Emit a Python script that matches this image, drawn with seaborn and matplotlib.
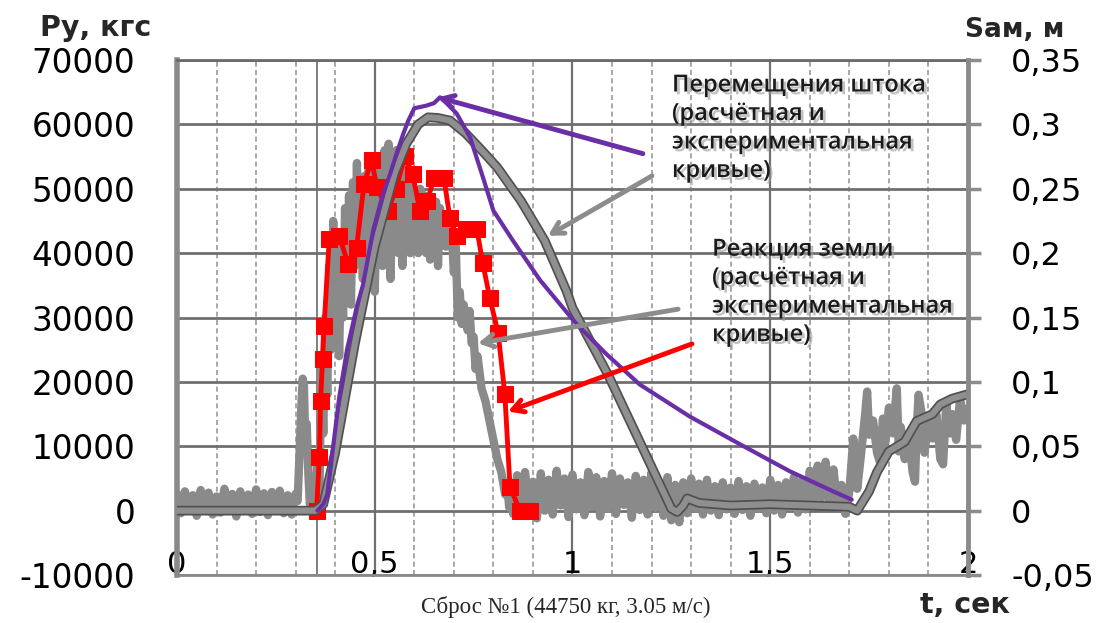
import numpy as np
import seaborn as sns
import matplotlib.pyplot as plt
import matplotlib.patheffects as pe

# experimental ground reaction (gray noisy curve), kgf
force_t = [
    0.00, 0.01, 0.02, 0.03, 0.04, 0.05, 0.06, 0.07, 0.08, 0.09, 0.10, 0.11, 0.12, 0.13, 0.14, 0.15,
    0.16, 0.17, 0.18, 0.19, 0.20, 0.21, 0.22, 0.23, 0.24, 0.25, 0.26, 0.27, 0.28, 0.29, 0.30,
    0.305, 0.31, 0.315, 0.318, 0.321, 0.324, 0.328, 0.332, 0.336, 0.34, 0.345, 0.35,
    0.355, 0.36, 0.365, 0.37, 0.375, 0.38, 0.385, 0.39, 0.395, 0.40, 0.405, 0.41, 0.415, 0.42,
    0.425, 0.43, 0.435, 0.44, 0.445, 0.45, 0.455, 0.46, 0.465, 0.47, 0.475, 0.48, 0.485, 0.49,
    0.495, 0.50, 0.505, 0.51, 0.515, 0.52, 0.525, 0.53, 0.535, 0.54, 0.545, 0.55, 0.555, 0.56,
    0.565, 0.57, 0.575, 0.58, 0.585, 0.59, 0.595, 0.60, 0.605, 0.61, 0.615, 0.62, 0.625, 0.63,
    0.635, 0.64, 0.645, 0.65, 0.655, 0.66, 0.665, 0.67, 0.675, 0.68, 0.685, 0.69, 0.695, 0.70,
    0.705, 0.71, 0.715, 0.72, 0.725, 0.73, 0.735, 0.74, 0.745, 0.75, 0.755, 0.76, 0.77, 0.78,
    0.79, 0.80, 0.81, 0.82, 0.83, 0.835, 0.84, 0.845, 0.85,
    0.86, 0.87, 0.88, 0.89, 0.90, 0.91, 0.92, 0.93, 0.94, 0.95, 0.96, 0.97, 0.98, 0.99, 1.00,
    1.01, 1.02, 1.03, 1.04, 1.05, 1.06, 1.07, 1.08, 1.09, 1.10, 1.11, 1.12, 1.13, 1.14, 1.15,
    1.16, 1.17, 1.18, 1.19, 1.20, 1.21, 1.22, 1.23, 1.24, 1.25, 1.26, 1.27, 1.28, 1.29, 1.30,
    1.31, 1.32, 1.33, 1.34, 1.35, 1.36, 1.37, 1.38, 1.39, 1.40, 1.41, 1.42, 1.43, 1.44, 1.45,
    1.46, 1.47, 1.48, 1.49, 1.50, 1.51, 1.52, 1.53, 1.54, 1.55, 1.56, 1.57, 1.58, 1.59, 1.60,
    1.61, 1.62, 1.63, 1.64, 1.65, 1.66, 1.67, 1.68, 1.69, 1.70,
    1.71, 1.72, 1.73, 1.74, 1.745, 1.75, 1.76, 1.77, 1.777, 1.785, 1.79, 1.80, 1.81, 1.82,
    1.825, 1.83, 1.84, 1.85, 1.86, 1.866, 1.87, 1.875, 1.885, 1.89, 1.90, 1.91, 1.92, 1.93,
    1.937, 1.945, 1.955, 1.96, 1.97, 1.98, 1.99, 2.00,
]
force_kgf = [
    2600, -400, 3000, 200, 2400, -800, 3200, 0, 2800, -600, 2200, -300, 3400, 400, 2600, -900,
    3000, 100, 2500, -500, 3300, -200, 2700, -700, 2900, 300, 3100, -400, 2400, -600, 2600,
    1500, 9000, 17000, 20500, 19500, 11500, 13500, 6000, 1000, 3000, -500, 1500,
    8000, 2000, 22000, 12000, 30000, 18000, 38000, 25000, 45000, 28000, 42000, 24000, 40000, 30000,
    47000, 33000, 49000, 32000, 51000, 38000, 54000, 40000, 50000, 36000, 52000, 40000, 55000, 35000,
    49000, 34000, 48000, 40000, 54000, 38000, 56000, 42000, 57000, 36000, 52000, 44000, 56000, 40000,
    53000, 38000, 54000, 45000, 52000, 40000, 50000, 43000, 49000, 40000, 50000, 44000, 49000, 40000,
    48000, 39000, 47000, 42000, 48000, 38000, 47000, 43000, 46000, 41000, 45000, 42000, 43000, 37000,
    41000, 30000, 34000, 29000, 32000, 30000, 28000, 31000, 26000, 27000, 22000, 24000, 19000, 17000,
    14000, 11000, 8000, 6000, 2500, 4000, 500, 3000, -500,
    5500, -800, 6000, 500, 4500, -1200, 5800, 0, 4800, -600, 6200, 800, 5000, -1000, 5600,
    200, 4400, -700, 6000, 600, 5200, -900, 4600, 300, 5800, -500, 5000, 900, 4400, -1100,
    5400, 100, 4800, -600, 6000, 400, 4200, -800, 5200, -1500, 4000, -1800, 4400, -400, 5000,
    300, 4200, -600, 4800, 0, 3800, -700, 4400, 200, 3600, -500, 4600, 100, 3800, -800,
    4200, 300, 3600, -400, 4800, 0, 4000, -600, 4400, 500, 5200, -300, 4600, 200, 6200,
    1000, 7000, 2000, 7600, 1200, 6400, 500, 4000, -500, 3000,
    11200, 3400, 9000, 15000, 18500, 11800, 14000, 9000, 7600, 14300, 10000, 16000, 12000, 19000,
    9200, 13000, 8000, 12000, 6000, 4500, 12000, 18000, 14300, 9000, 14000, 11200, 15000, 8000,
    7200, 16500, 12000, 15000, 11000, 17400, 14000, 15900,
]

# calculated ground reaction (red, square markers), kgf
calc_force_t = [0.353, 0.36, 0.363, 0.368, 0.372, 0.385, 0.41, 0.433, 0.454, 0.473, 0.492,
                0.506, 0.533, 0.554, 0.576, 0.596, 0.614, 0.633, 0.65, 0.675, 0.69, 0.707,
                0.732, 0.758, 0.773, 0.791, 0.812, 0.829, 0.842, 0.867, 0.893]
calc_force_kgf = [0, 8400, 17000, 23500, 28700, 42200, 42700, 38300, 40800, 50800, 54400,
                  50200, 46600, 50000, 55100, 52300, 46600, 48100, 51700, 51600, 45500, 42700,
                  43800, 43800, 38500, 33000, 27600, 18100, 3700, 0, 0]

# experimental rod displacement (gray outlined curve), m
exp_disp_t = [0, 0.35, 0.37, 0.40, 0.45, 0.50, 0.55, 0.58, 0.61, 0.635, 0.66, 0.69, 0.73,
              0.77, 0.81, 0.87, 0.93, 0.985, 1.0, 1.09, 1.17, 1.25, 1.265, 1.28, 1.29, 1.32,
              1.40, 1.50, 1.60, 1.70, 1.72, 1.75, 1.77, 1.80, 1.84, 1.87, 1.91, 1.93, 1.96, 2.0]
exp_disp_m = [0, 0, 0.005, 0.045, 0.13, 0.205, 0.262, 0.285, 0.3, 0.3055, 0.305, 0.303, 0.293,
              0.28, 0.2665, 0.2405, 0.2095, 0.1705, 0.1575, 0.1055, 0.0535, 0.0015, -0.001, 0.004,
              0.0095, 0.006, 0.004, 0.005, 0.004, 0.003, 0.0, 0.015, 0.03, 0.046, 0.0535, 0.0695,
              0.075, 0.0825, 0.087, 0.0905]

# calculated rod displacement (purple), m
calc_disp_t = [0.355, 0.37, 0.38, 0.39, 0.40, 0.41, 0.43, 0.454, 0.47, 0.496, 0.52, 0.539, 0.555,
               0.572, 0.585, 0.60, 0.63, 0.65, 0.665, 0.68, 0.707, 0.741, 0.774, 0.80, 0.85, 0.918,
               1.01, 1.086, 1.17, 1.297, 1.424, 1.55, 1.659, 1.706]
calc_disp_m = [0, 0.005, 0.0125, 0.0375, 0.0625, 0.0875, 0.125, 0.1575, 0.175, 0.2175, 0.245,
               0.2615, 0.277, 0.2925, 0.303, 0.3125, 0.3145, 0.3165, 0.321, 0.317, 0.3085, 0.29,
               0.2585, 0.233, 0.2095, 0.179, 0.145, 0.1215, 0.098, 0.073, 0.0515, 0.0305, 0.015,
               0.0085]

impact_t = 0.353

left_ticks = [-10000, 0, 10000, 20000, 30000, 40000, 50000, 60000, 70000]
left_labels = ["-10000", "0", "10000", "20000", "30000", "40000", "50000", "60000", "70000"]
right_ticks = [-0.05, 0, 0.05, 0.1, 0.15, 0.2, 0.25, 0.3, 0.35]
right_labels = ["-0,05", "0", "0,05", "0,1", "0,15", "0,2", "0,25", "0,3", "0,35"]
x_ticks = [0, 0.5, 1, 1.5, 2]
x_labels = ["0", "0,5", "1", "1,5", "2"]

sns.set_style("white")
plt.rcParams['font.family'] = ['DejaVu Sans']

fig = plt.figure(figsize=(11.04, 6.23), dpi=100)
ax = fig.add_axes([0.1603, 0.0770, 0.7165, 0.8267])
ax2 = ax.twinx()

# grid
ax.set_axisbelow(True)
ax.set_xlim(0, 2)
ax.set_ylim(-10000, 70000)
ax.set_xticks(x_ticks, x_labels)
ax.set_xticks(np.arange(0, 2.001, 0.1), minor=True)
ax.set_yticks(left_ticks, left_labels)
ax.yaxis.grid(True, color='#6f6f6f', lw=2)
ax.xaxis.grid(True, which='major', color='#707070', lw=1.6)
ax.xaxis.grid(True, which='minor', color='#9a9a9a', lw=1.2, ls=(0, (3, 2)))
ax.axvline(impact_t, color='#6a6a6a', lw=1.2, zorder=0.5)

sns.lineplot(x=force_t, y=force_kgf, ax=ax, color='#8a8a8a', lw=6, estimator=None, sort=False)
sns.lineplot(x=calc_force_t, y=calc_force_kgf, ax=ax, color='#ff0000', lw=3.5, marker='s',
             markersize=11, markeredgecolor='#ff0000', estimator=None, sort=False)

ax2.set_ylim(-0.05, 0.35)
ax2.set_yticks(right_ticks, right_labels)
sns.lineplot(x=exp_disp_t, y=exp_disp_m, ax=ax2, color='#8f8f8f', lw=4.5, estimator=None, sort=False,
             path_effects=[pe.Stroke(linewidth=7, foreground='#505050'), pe.Normal()])
sns.lineplot(x=calc_disp_t, y=calc_disp_m, ax=ax2, color='#6a2ea6', lw=3, estimator=None, sort=False)
ax2.set_xlim(0, 2)

# ticks and spines
ax.tick_params(axis='y', length=0, pad=30, labelsize=23.5, labelcolor='black')
ax.tick_params(axis='x', which='both', length=0, pad=-18, labelsize=22, labelcolor='black')
ax2.tick_params(axis='y', length=9, width=2.5, color='#8c8c8c', pad=22, labelsize=23,
                labelcolor='black')
for s in ['left', 'top', 'bottom']:
    ax2.spines[s].set_visible(False)
ax2.spines['right'].set_color('#8a8a8a')
ax2.spines['right'].set_linewidth(3.5)
ax.spines['right'].set_visible(False)
ax.spines['left'].set_color('#8a8a8a')
ax.spines['left'].set_linewidth(4)
ax.spines['top'].set_color('#6a6a6a')
ax.spines['top'].set_linewidth(2)
ax.spines['bottom'].set_color('#8a8a8a')
ax.spines['bottom'].set_linewidth(2)

# axis titles and caption
fig.text(40 / 1104, 1 - 28 / 623, "Ру, кгс", ha='left', va='center', fontsize=20.5, fontweight='bold')
fig.text(965 / 1104, 1 - 30 / 623, "Sам, м", ha='left', va='center', fontsize=19, fontweight='bold')
fig.text(920 / 1104, 1 - 605 / 623, "t, сек", ha='left', va='center', fontsize=20.5, fontweight='bold')
fig.text(566 / 1104, 1 - 607 / 623, "Сброс №1 (44750 кг, 3.05 м/с)", ha='center', va='center',
         fontsize=16.5, family='Liberation Serif')

# annotations
shadow = [pe.withSimplePatchShadow(offset=(2, -2), shadow_rgbFace='#999999', alpha=0.6)]
ax2.text(1.2516, 67900, "Перемещения штока\n(расчётная и\nэкспериментальная\nкривые)",
         transform=ax.transData, ha='left', va='top', fontsize=17, family='Open Sans',
         fontweight='semibold', color='#1a1a1a', linespacing=1.25, path_effects=shadow)
ax2.text(1.353, 42400, "Реакция земли\n(расчётная и\nэкспериментальная\nкривые)",
         transform=ax.transData, ha='left', va='top', fontsize=17, family='Open Sans',
         fontweight='semibold', color='#1a1a1a', linespacing=1.25, path_effects=shadow)

arrows = [
    ((0.66, 64200), (1.178, 55450), '#6a2ea6'),
    ((0.938, 42700), (1.201, 52000), '#8c8c8c'),
    ((0.761, 26000), (1.267, 31300), '#8c8c8c'),
    ((0.837, 15400), (1.302, 25900), '#ff0000'),
]
for tip, tail, col in arrows:
    ax2.annotate('', xy=tip, xytext=tail, xycoords=ax.transData, textcoords=ax.transData,
                 arrowprops=dict(arrowstyle='->,head_length=0.8,head_width=0.45', color=col,
                                 lw=3.5, shrinkA=0, shrinkB=0))

plt.savefig("out.png", dpi=100)
